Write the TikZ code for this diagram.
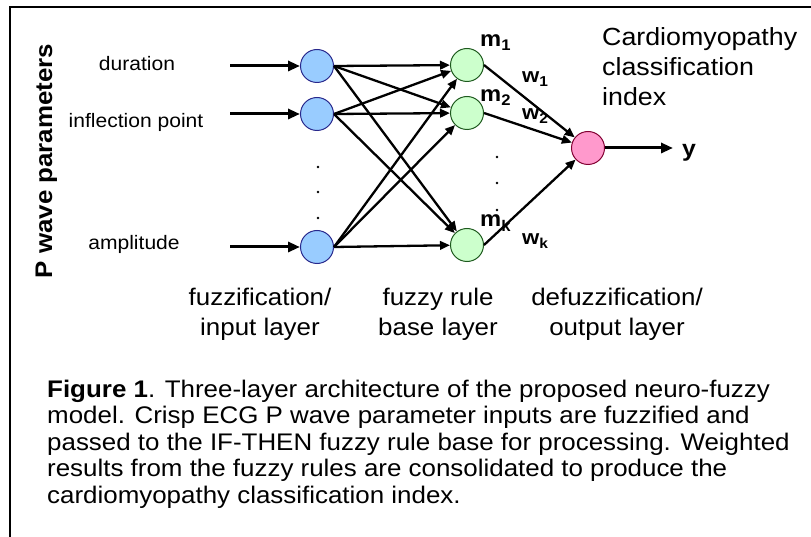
\documentclass[tikz,border=0pt]{standalone}
\usepackage{fontspec}
\setmainfont{Liberation Sans}[FakeStretch=1.08]
\usetikzlibrary{arrows.meta}

\definecolor{inblue}{RGB}{153,204,255}
\definecolor{inedge}{RGB}{40,40,140}
\definecolor{rulegreen}{RGB}{204,255,204}
\definecolor{ruleedge}{RGB}{30,90,30}
\definecolor{outpink}{RGB}{255,153,204}
\definecolor{outedge}{RGB}{130,0,50}

\begin{document}
\begin{tikzpicture}[x=1pt,y=-1pt,
                    line cap=butt,
                    font=\fontsize{19.5}{23}\selectfont]
    \tikzstyle{neuron}=[circle,minimum size=33pt,inner sep=0pt,line width=1pt]
    \tikzstyle{inputnode}=[neuron,fill=inblue,draw=inedge]
    \tikzstyle{rulenode}=[neuron,fill=rulegreen,draw=ruleedge]
    \tikzstyle{outputnode}=[neuron,fill=outpink,draw=outedge]
    \tikzstyle{feed}=[line width=3pt,-{Triangle[length=12pt,width=10pt]}]
    \tikzstyle{link}=[line width=2.3pt,-{Triangle[length=10pt,width=8.5pt]}]
    \tikzstyle{layertext}=[anchor=north,align=center,inner sep=0pt,
                           font=\fontsize{24}{30}\selectfont]
    \tikzstyle{mlabel}=[anchor=base west,inner sep=0pt,
                        font=\fontsize{22}{24}\selectfont\bfseries]
    \tikzstyle{wlabel}=[mlabel,font=\fontsize{20.5}{24}\selectfont\bfseries]

    \useasboundingbox (0,0) rectangle (811,537);
    \draw[line width=2.5pt] (811,7) -- (10,7) -- (10,537);

    % input layer
    \node[inputnode] (x1) at (317,66) {};
    \node[inputnode] (x2) at (317,114) {};
    \node[inputnode] (xn) at (317,247) {};

    % rule layer
    \node[rulenode] (m1) at (467,65) {};
    \node[rulenode] (m2) at (467,113) {};
    \node[rulenode] (mk) at (467,245) {};

    % output layer
    \node[outputnode] (out) at (588,148) {};
    \coordinate (yend) at (673,148);

    % crisp inputs
    \node[anchor=base] (dur) at (137,71) {duration};
    \node[anchor=base] (infl) at (136,128) {inflection point};
    \node[anchor=base] (ampl) at (134,250) {amplitude};
    \coordinate (d1) at (230,66);
    \coordinate (d2) at (230,114);
    \coordinate (dn) at (230,247);
    \draw[feed] (d1) -- (x1);
    \draw[feed] (d2) -- (x2);
    \draw[feed] (dn) -- (xn);

    \node[rotate=90,anchor=base,inner sep=0pt,
          font=\fontsize{24}{28}\selectfont\bfseries] (pwave) at (52,161) {P wave parameters};

    % every input feeds every rule
    \foreach \a in {x1,x2,xn}
        \foreach \b in {m1,m2,mk}
            \draw[link] (\a.east) -- (\b);

    \draw[link] (m1.east) -- (out);
    \draw[link] (m2.east) -- (out);
    \draw[link] (mk.east) -- (out);
    \draw[feed] (out) -- (yend);

    \foreach \yy in {167,192,218}
        \fill (318,\yy) circle (1.4pt);
    \foreach \yy in {157,183,210}
        \fill (497,\yy) circle (1.4pt);

    \node[mlabel] (lm1) at (480,47) {m\textsubscript{1}};
    \node[mlabel] (lm2) at (480,102) {m\textsubscript{2}};
    \node[mlabel] (lmk) at (480,227) {m\textsubscript{k}};
    \node[wlabel] (lw1) at (522,83) {w\textsubscript{1}};
    \node[wlabel] (lw2) at (522,120) {w\textsubscript{2}};
    \node[wlabel] (lwk) at (522,245) {w\textsubscript{k}};
    \node[anchor=base west,inner sep=0pt,
          font=\fontsize{23}{24}\selectfont\bfseries] (ylab) at (682,157) {y};

    \node[anchor=north west,align=left,inner sep=0pt,
          font=\fontsize{24.8}{30}\selectfont] (cci) at (602,27)
        {Cardiomyopathy\\classification\\index};

    \node[layertext] (fuzz) at (260,287.5) {fuzzification/\\input layer};
    \node[layertext] (rule) at (438,287.5) {fuzzy rule\\base layer};
    \node[layertext] (defuzz) at (617,287.5) {defuzzification/\\output layer};

    \node[anchor=north west,align=left,inner sep=0pt,
          font=\fontsize{24}{26.6}\selectfont] (caption) at (47,379.5)
        {\textbf{Figure 1}. Three-layer architecture of the proposed neuro-fuzzy\\
         model. Crisp ECG P wave parameter inputs are fuzzified and\\
         passed to the IF-THEN fuzzy rule base for processing. Weighted\\
         results from the fuzzy rules are consolidated to produce the\\
         cardiomyopathy classification index.};
\end{tikzpicture}
\end{document}
